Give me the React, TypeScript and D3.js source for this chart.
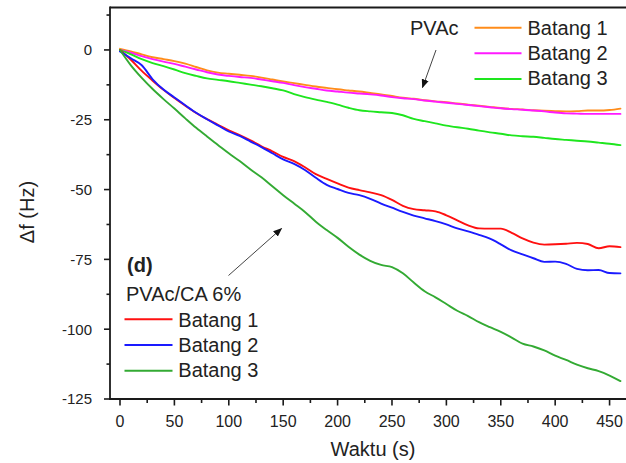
import React from "react";
import * as d3 from "d3";

// ---- data ----
const times = [0,10,20,30,40,50,60,70,80,90,100,110,120,130,140,150,160,170,180,190,200,210,220,230,240,250,260,270,280,290,300,310,320,330,340,350,360,370,380,390,400,410,420,430,440,450,460];

const pvacB1 = [0.4,-0.5,-1.6,-2.6,-3.3,-4.0,-4.9,-6.1,-7.3,-8.1,-8.5,-8.9,-9.3,-9.9,-10.6,-11.3,-11.9,-12.5,-13.1,-13.6,-14.1,-14.5,-14.9,-15.4,-15.9,-16.5,-17.1,-17.5,-18.0,-18.4,-18.7,-19.2,-19.6,-20.0,-20.4,-20.8,-21.1,-21.3,-21.6,-21.8,-21.9,-22.0,-21.9,-21.7,-21.7,-21.5,-21.0];
const pvacB2 = [0,-1.0,-2.2,-3.3,-4.2,-5.0,-6.0,-7.0,-8.0,-8.8,-9.3,-9.7,-10.0,-10.6,-11.2,-11.8,-12.6,-13.3,-13.9,-14.5,-14.9,-15.3,-15.6,-15.9,-16.3,-16.9,-17.3,-17.6,-18.1,-18.5,-18.9,-19.3,-19.7,-20.1,-20.5,-20.9,-21.2,-21.4,-21.7,-22.0,-22.4,-22.7,-22.8,-22.9,-22.9,-22.9,-22.9];
const pvacB3 = [0,-1.6,-3.3,-4.7,-5.8,-7.0,-8.3,-9.3,-10.2,-10.7,-11.2,-11.8,-12.4,-13.0,-13.7,-14.5,-15.8,-16.9,-17.8,-18.6,-19.6,-20.7,-21.6,-22.0,-22.3,-22.6,-23.4,-24.7,-25.5,-26.3,-27.1,-27.7,-28.2,-28.9,-29.5,-30.0,-30.6,-30.9,-31.1,-31.5,-31.9,-32.2,-32.5,-32.8,-33.2,-33.6,-34.1];
const caB1 = [0,-3.5,-7.5,-11.0,-14.3,-17.2,-20.0,-22.6,-24.8,-26.8,-28.8,-30.5,-32.4,-34.5,-36.3,-38.3,-39.8,-42.0,-44.5,-46.2,-47.8,-49.3,-50.2,-51.0,-52.0,-53.7,-55.8,-57.0,-57.4,-57.8,-59.2,-61.0,-62.8,-63.9,-64.0,-64.0,-65.5,-67.5,-69.0,-69.7,-69.6,-69.4,-69.1,-69.5,-71.0,-70.3,-70.6];
const caB2 = [-0.5,-3.0,-5.5,-10.5,-14.2,-17.0,-19.8,-22.5,-24.8,-27.0,-29.2,-30.8,-32.8,-34.8,-37.0,-39.2,-40.8,-43.0,-45.8,-48.3,-49.8,-51.2,-52.0,-53.3,-55.0,-56.5,-58.0,-59.3,-60.3,-61.3,-62.5,-63.9,-65.0,-66.2,-67.6,-69.6,-71.8,-73.2,-74.6,-75.9,-75.8,-76.6,-78.4,-78.9,-78.8,-79.9,-80.0];
const caB3 = [0,-5.5,-10.0,-14.0,-17.6,-21.0,-24.5,-27.9,-31.0,-34.0,-37.0,-39.8,-42.8,-45.6,-48.8,-52.0,-55.0,-58.0,-61.5,-64.5,-67.3,-70.5,-73.3,-75.5,-77.0,-77.8,-80.0,-83.3,-86.4,-88.6,-91.0,-93.4,-95.3,-97.5,-99.3,-101.0,-103.0,-105.2,-106.2,-107.6,-109.5,-111.0,-112.7,-114.0,-115.0,-116.6,-118.6];

const xMajorTicks = [0,50,100,150,200,250,300,350,400,450];
const xMinorTicks = [25,75,125,175,225,275,325,375,425];
const yMajorTicks = [0,-25,-50,-75,-100,-125];
const yMinorTicks = [12.5,-12.5,-37.5,-62.5,-87.5,-112.5];

const pvacLabels = ["Batang 1","Batang 2","Batang 3"];
const caLabels = ["Batang 1","Batang 2","Batang 3"];

const pvacSeries = [pvacB1, pvacB2, pvacB3];
const caSeries = [caB1, caB2, caB3];
const pvacColors = ["#ff8c1a", "#ff1aff", "#1ee61e"];
const caColors = ["#ff1010", "#1a1aff", "#33aa33"];

const W = 626, H = 463;
const FONT = "'Liberation Sans', Arial, Helvetica, sans-serif";

export default function App() {
  const x = d3.scaleLinear().domain([-9.19, 465.1]).range([110, 626]);
  const y = d3.scaleLinear().domain([15.2, -125]).range([7.5, 399]);
  const line = d3.line<[number, number]>()
    .x((d) => x(d[0]))
    .y((d) => y(d[1]))
    .curve(d3.curveMonotoneX);
  const mk = (vals: number[]) => line(times.map((t, i) => [t, vals[i]] as [number, number])) || "";

  const x0 = x.range()[0];
  const yBottom = y.range()[1];
  const yTop = y.range()[0];
  const axisColor = "#1a1a1a";

  return (
    <svg width={W} height={H} style={{ position: "fixed", left: 0, top: 0, background: "#fff" }} fontFamily={FONT}>
      <defs>
        <marker id="ah" viewBox="0 0 10 10" refX="9" refY="5" markerWidth="9" markerHeight="9" markerUnits="userSpaceOnUse" orient="auto">
          <path d="M0,1 L10,5 L0,9 z" fill="#111" />
        </marker>
      </defs>
      <rect x={0} y={0} width={W} height={H} fill="#fff" />

      {/* data lines */}
      <g fill="none" strokeWidth={1.9} strokeLinejoin="round" strokeLinecap="round">
        {pvacSeries.map((s, i) => (
          <path key={"p" + i} d={mk(s)} stroke={pvacColors[i]} />
        ))}
        {caSeries.map((s, i) => (
          <path key={"c" + i} d={mk(s)} stroke={caColors[i]} />
        ))}
      </g>

      {/* axes frame */}
      <line x1={x0} x2={W} y1={yTop} y2={yTop} stroke={axisColor} strokeWidth={1.8} />
      <line x1={x0} x2={x0} y1={yTop - 0.9} y2={yBottom + 0.9} stroke={axisColor} strokeWidth={1.8} />
      <line x1={x0 - 0.9} x2={W} y1={yBottom} y2={yBottom} stroke={axisColor} strokeWidth={1.8} />

      {/* y ticks */}
      {yMajorTicks.map((v) => (
        <g key={"ym" + v}>
          <line x1={x0 - 6} x2={x0} y1={y(v)} y2={y(v)} stroke={axisColor} strokeWidth={1.6} />
          <text x={92} y={y(v)} dy="0.36em" textAnchor="end" fontSize={15} fill="#222">{v}</text>
        </g>
      ))}
      {yMinorTicks.map((v) => (
        <line key={"yn" + v} x1={x0 - 3.5} x2={x0} y1={y(v)} y2={y(v)} stroke={axisColor} strokeWidth={1.6} />
      ))}

      {/* x ticks */}
      {xMajorTicks.map((v) => (
        <g key={"xm" + v}>
          <line x1={x(v)} x2={x(v)} y1={yBottom} y2={yBottom + 6.5} stroke={axisColor} strokeWidth={1.6} />
          <text x={x(v)} y={426.5} textAnchor="middle" fontSize={16} fill="#222">{v}</text>
        </g>
      ))}
      {xMinorTicks.map((v) => (
        <line key={"xn" + v} x1={x(v)} x2={x(v)} y1={yBottom} y2={yBottom + 4} stroke={axisColor} strokeWidth={1.6} />
      ))}

      {/* axis titles */}
      <text x={373} y={456} textAnchor="middle" fontSize={20} fill="#222">Waktu (s)</text>
      <text transform="translate(34,212) rotate(-90)" textAnchor="middle" fontSize={20} fill="#222">Δf (Hz)</text>

      {/* PVAc legend */}
      <text x={410} y={35} fontSize={20} fill="#222">PVAc</text>
      {pvacLabels.map((l, i) => (
        <g key={"pl" + i}>
          <line x1={474.5} x2={521.5} y1={27.7 + i * 25.6} y2={27.7 + i * 25.6} stroke={pvacColors[i]} strokeWidth={2} />
          <text x={527.5} y={35 + i * 25} fontSize={20} fill="#222">{l}</text>
        </g>
      ))}
      <line x1={436} y1={50} x2={422.5} y2={87.5} stroke="#444" strokeWidth={1} markerEnd="url(#ah)" />

      {/* PVAc/CA legend */}
      <text x={127} y={271.5} fontSize={20} fontWeight="bold" fill="#222">(d)</text>
      <text x={126} y={300.5} fontSize={20} fill="#222">PVAc/CA 6%</text>
      {caLabels.map((l, i) => (
        <g key={"cl" + i}>
          <line x1={124.5} x2={172.5} y1={319.3 + i * 25.7} y2={319.3 + i * 25.7} stroke={caColors[i]} strokeWidth={2} />
          <text x={178.3} y={326.5 + i * 25} fontSize={20} fill="#222">{l}</text>
        </g>
      ))}
      <line x1={228.5} y1={275.5} x2={281.5} y2={228.5} stroke="#444" strokeWidth={1} markerEnd="url(#ah)" />
    </svg>
  );
}
